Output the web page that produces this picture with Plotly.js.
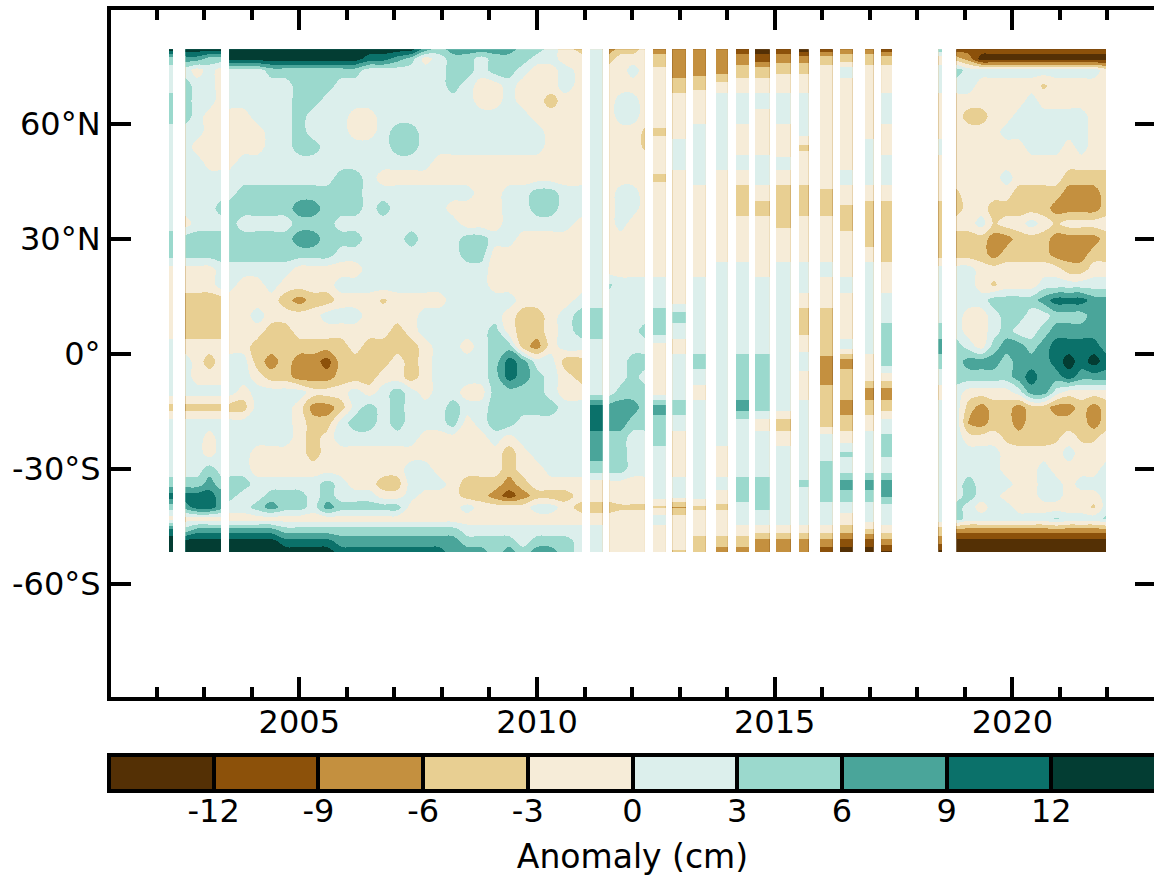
<!DOCTYPE html>
<html><head><meta charset="utf-8">
<script src="https://cdn.plot.ly/plotly-3.0.1.min.js"></script>
<style>html,body{margin:0;padding:0;background:#fff;overflow:hidden;width:1154px;height:879px}
.contourbg path,.contourfill path,.contourlevel path{shape-rendering:crispEdges}</style>
</head><body><div id="plot" style="width:1157px;height:879px"></div>
<script>
// Latitude of each row, north to south
const lats=[79.5,77,74,70,66,62,58,54,50,46,42,38,34,30,26,22,18,14,10,6,2,-2,-6,-10,-14,-18,-22,-26,-30,-34,-37,-40,-43,-46,-49,-51.7];
const levels=[-12,-9,-6,-3,0,3,6,9,12];
const bandColors=['#543005','#8c510a','#c4903f','#e8cf92','#f6ecd8','#dcefec','#9bd9cd','#4aa59a','#0b716a','#033d33'];

// Anomaly (cm) read by eye, rows north to south.
// Early block: 2002.3 | 2002.6-2003.35
const earlyAnomaly=[
[14,14,14,14,14],[5,8,8,5,5],[2,2,-2,2,-2],[2,5,2,2,-2],[5,5,2,2,-2],[5,5,2,-2,-2],
[2,2,2,-2,-2],[2,2,-2,-2,-2],[2,2,2,-2,-2],[2,2,2,2,2],[2,2,2,2,2],[2,2,2,2,5],
[2,-2,2,2,2],[5,5,5,5,5],[5,5,5,5,5],[-2,-2,-2,-2,2],[-2,-2,-2,-2,2],[-2,-5,-5,-5,-5],
[-2,-5,-5,-5,-5],[-2,-5,-5,-5,-5],[2,-2,-2,-2,-2],[2,2,-2,-5,-2],[2,2,-2,-2,-2],[2,2,2,2,2],
[-5,-5,-5,-5,-5],[2,2,2,2,2],[2,2,2,-2,2],[2,2,2,-2,2],[2,2,2,5,2],[5,5,5,8,5],
[11,11,11,11,8],[5,8,11,11,8],[-2,-2,-2,-2,-2],[11,5,8,8,8],[14,14,14,14,14],[14,14,14,14,14]];

// Continuous block: 2003.5-2011
const midAnomaly=[
[14,14,14,14,14,14,14,14,14,14,14,14,14,14,8,5,8,8,8,8,8,5,5,2,-2,-5],
[14,14,14,14,14,14,14,14,14,14,11,11,8,5,-2,2,5,5,2,5,5,5,2,2,-2,-2],
[2,2,2,5,5,5,5,5,5,5,2,2,2,2,2,2,5,5,2,5,5,2,-2,-2,2,-2],
[2,2,2,2,2,5,5,5,2,2,2,2,2,2,2,2,5,2,-2,-2,2,-2,-2,-2,2,-2],
[2,2,2,2,2,5,5,2,2,2,2,2,2,2,2,2,2,2,-2,-2,2,-2,-2,-5,-2,-2],
[-2,-2,2,2,2,5,2,2,2,-2,-2,2,2,2,2,2,2,2,2,2,2,2,-2,-2,-2,-2],
[-2,-2,-2,2,2,5,2,2,2,-2,-2,2,5,5,2,2,2,2,2,2,2,2,2,-2,-2,-2],
[-2,-2,-2,2,2,5,5,2,2,2,2,2,5,5,2,2,2,2,2,2,2,2,2,-2,-2,-2],
[-2,2,2,2,2,2,2,2,2,2,2,2,2,2,2,-2,-2,-2,-2,-2,-2,-2,-2,-2,-2,-2],
[2,2,2,2,2,2,2,2,5,5,2,-2,-2,-2,-2,-2,-2,-2,-2,-2,-2,-2,-2,-2,-2,-2],
[2,5,5,5,5,5,5,5,5,5,2,2,2,2,2,2,2,2,-2,-2,2,2,5,5,2,2],
[5,5,5,5,5,8,8,5,5,5,2,5,2,2,2,2,-2,-2,-2,-2,2,2,5,5,2,2],
[5,2,2,2,2,5,5,5,2,2,2,2,2,2,2,2,2,-2,-2,-2,2,2,2,2,2,-2],
[5,5,5,5,5,8,8,5,5,5,2,2,2,5,2,2,2,5,5,2,2,-2,-2,-2,-2,-2],
[5,5,5,5,5,5,5,5,2,2,2,2,2,2,2,2,2,5,5,-2,-2,-2,-2,-2,-2,-2],
[2,2,2,2,2,-2,-2,-2,-2,-2,2,2,2,2,2,2,2,2,2,-2,-2,-2,-2,-2,-2,-2],
[2,-2,-2,2,-2,-2,-2,-2,2,2,2,2,2,2,2,2,2,2,2,-2,-2,-2,-2,-2,-2,-2],
[-2,-2,-2,-2,-5,-8,-5,-5,-2,-2,-2,-4,-2,-2,-2,-2,2,2,2,2,2,-2,-2,-2,-2,2],
[-2,-2,2,-2,-2,-2,-2,2,2,2,-2,-2,-2,-2,2,2,2,2,2,2,-2,-5,-5,-2,2,5],
[-2,-2,-2,-5,-5,-2,-2,-2,-2,-2,-2,-2,-5,-2,2,2,2,2,2,5,-2,-5,-5,-2,2,5],
[-2,-2,-5,-5,-5,-5,-5,-5,-5,-2,-5,-5,-5,-5,-2,2,2,-2,2,5,5,-5,-8,-2,2,2],
[2,2,-5,-8,-5,-8,-8,-11,-5,-5,-5,-5,-2,-5,-2,2,2,2,2,5,11,8,2,2,-5,-5],
[2,2,-2,-5,-5,-8,-8,-8,-5,-5,-5,-2,-2,-5,-2,2,2,2,2,5,11,8,5,2,-2,-5],
[2,-2,2,2,2,2,-2,-2,-2,2,-2,2,5,2,-2,2,2,-2,-2,5,5,5,5,2,-2,-2],
[-5,-5,2,2,2,-2,-8,-8,-5,2,5,2,5,2,2,2,5,2,2,5,5,5,5,5,2,2],
[2,2,2,2,2,-2,-5,-5,2,5,5,2,5,2,2,2,5,-2,2,5,5,2,2,2,2,2],
[2,2,2,2,2,-2,-5,-2,2,2,2,2,2,2,-2,-2,-2,-2,-2,2,-2,2,2,2,2,2],
[2,2,-2,-2,-2,-2,-5,-2,-2,-2,-2,-2,-2,-2,-2,-2,-2,-2,-2,-2,-5,-2,2,2,2,2],
[2,2,-2,-2,-2,-2,-2,-2,-2,-2,-2,-2,-2,2,2,-2,-2,-2,-2,-2,-5,-2,-2,2,2,2],
[5,5,2,2,2,2,2,5,2,-2,-2,-5,-5,2,2,2,-2,-5,-5,-5,-8,-5,-2,-2,-2,-2],
[5,2,2,5,5,5,2,5,2,2,2,-2,-2,2,-2,-2,-2,-5,-5,-8,-11,-8,-5,-5,-5,-2],
[2,2,5,8,5,5,2,8,5,5,5,5,5,-2,-2,-2,-2,2,-2,-2,-2,-2,2,2,-2,-5],
[-2,-2,-2,-2,-2,-2,-2,-2,-2,-2,-2,-2,-2,-2,-2,-2,-2,-2,-2,-2,-2,-2,-2,-2,-2,-2],
[8,8,8,8,5,5,5,5,5,5,5,5,5,5,5,5,5,2,2,2,2,2,2,2,2,2],
[14,14,14,14,11,11,11,11,8,8,8,8,8,8,8,8,8,5,5,5,5,2,5,5,5,2],
[14,14,14,14,14,14,14,14,11,11,11,11,11,11,11,11,8,8,8,5,8,5,8,8,5,2]];

// Broken block 2011-2018.5: one list per column, each running north to south
const gappyColumns=[
[2,2,2,2,2,2,2,2,2,2, 2,2,2,2,2,2,2,2, 5,5,2,2,2,2, 11,11,8,8,5,-2, -2,-5,-2,2,2,2],
[-8,-5,-2,-2,-2,-2,-2,-2,-2,-2, -2,-2,-2,-2,-2,-2,4,2, 2,2,2,2,2,2, 8,8,5,5,5,-2, -2,-5,-2,-2,-2,-2],
[-5,-2,-2,-2,2,2,-2,-2,-2,-2, 2,2,2,-2,-2,-2,2,2, 2,2,2,2,2,5, 8,8,5,5,5,-2, -2,-4,-2,-2,-2,-2],
[-5,-2,2,-2,2,2,-2,-2,-2,-2, 2,2,-2,-2,-2,-2,2,2, 2,2,2,5,5,5, 8,5,2,2,2,-2, -2,-4,-2,-2,-2,-2],
[-2,-2,-2,-2,-2,-2,-4,-4,-2,-2, -2,-2,-2,-2,-2,-2,2,2, 2,5,2,5,2,5, 5,5,2,2,2,-2, -2,-4,-2,-2,-2,-2],
[-8,-5,-3,-2,-2,-2,-4,-2,-2,-4, -2,-2,-2,-2,-2,-2,2,2, 5,5,-2,-2,-2,-2, 8,5,5,2,2,2, 2,-4,2,-2,-2,-2],
[-8,-8,-8,-5,-2,-2,-2,2,2,-2, -2,-2,-2,-2,-2,-2,-2,-2, 5,2,-2,2,2,2, 5,2,-2,-2,-2,2, 2,-7,-2,-2,-2,-4],
[-8,-8,-8,-4,-2,-2,2,2,2,2, -2,-2,-2,-2,-2,-2,2,2, 2,2,2,5,2,-2, 2,2,2,2,2,2, 2,-4,-2,-2,-5,-5],
[-8,-8,-8,-2,2,2,2,2,2,-2, -2,-2,-2,-2,-2,2,2,2, 2,2,2,2,2,2, 2,2,2,-2,-2,2, -2,-4,-2,-2,-5,-8],
[-11,-8,-5,-2,2,2,-2,-2,2,-2, -5,-5,-2,-2,-2,2,2,2, 2,2,2,5,5,5, 8,2,2,2,2,5, 5,2,2,-2,-5,-8],
[-14,-11,-5,-2,2,-2,-2,-2,2,2, -2,-5,-2,-2,-2,-2,2,2, 2,2,2,5,5,5, 5,-2,2,2,2,5, 5,4,2,-2,-8,-8],
[-11,-8,-4,-2,2,2,-2,-3,2,-2, -5,-5,-4,-2,-2,2,2,2, 2,2,2,2,2,2, 2,-5,-2,2,2,2, 2,2,2,-2,-8,-8],
[-14,-8,-4,-2,2,2,2,-4,-2,-2, -5,-5,-2,-2,-2,2,2,-2, -5,-4,-2,3,-2,-2, 2,2,2,2,2,4, 2,2,2,-2,-8,-8],
[-11,-5,-2,-2,-2,-2,-2,-2,-2,-2, -4,-5,-2,-2,-2,2,-2,-2, -5,-4,-4,-8,-8,-5, -5,-5,2,2,5,5, 5,2,2,-2,-8,-11],
[-8,-5,2,-2,-2,-2,-2,-2,-2,2, -2,-4,-5,-2,-2,-2,2,-2, -2,-2,2,-8,-5,-5, -8,-5,-2,4,2,8, 5,2,-2,-5,-11,-14],
[-8,-5,-2,-2,-2,-2,-2,2,2,2, -2,-5,-5,-5,-2,2,2,2, 2,2,2,-2,-2,-8, -5,-2,2,2,2,8, 5,2,2,-4,-11,-14],
[-11,-5,-2,-2,2,2,-2,-2,2,2, -2,-5,-5,-5,-5,-2,-2,2, 2,5,5,5,-2,-8, -5,2,4,4,2,8, 7,2,2,-2,-8,-13],
[5,-2,2,2,-2,-2,-2,2,-2,-2, -2,-5,-5,-5,-5,2,2,2, 2,5,8,5,2,-2, 2,2,2,2,2,2, 2,2,2,-5,-8,-14]];

// Late block: 2018.8-2022
const lateAnomaly=[
[-11,-11,-11,-11,-11,-11,-11,-11,-11,-11,-11,-11,-11],
[-5,-8,-14,-14,-14,-14,-14,-14,-14,-14,-14,-14,-14],
[5,2,2,2,2,2,2,2,2,2,2,2,-2],
[2,2,-2,-2,-2,-2,-2,-4,-2,-2,-2,-2,-2],
[-2,-2,-2,-2,-2,-2,2,-2,-2,-2,-2,-2,-2],
[-2,-5,-5,-2,-2,2,2,2,2,2,2,-2,-2],
[-2,-2,-2,-2,2,2,2,2,2,2,2,-2,-2],
[-2,-2,-2,-2,-2,-2,2,2,2,-2,2,-2,-2],
[-2,-2,-2,-2,-2,-2,-2,-2,-2,-2,-2,-2,-2],
[-2,-2,-2,-2,2,-2,-2,-2,-2,-5,-5,-5,-5],
[-4,-2,-2,-2,-2,-5,-5,-5,-5,-8,-8,-8,-5],
[-5,-2,-2,-5,-5,-5,-5,-5,-8,-8,-8,-8,-5],
[-2,-2,2,-4,-2,-2,2,-2,-4,-2,-2,-2,-2],
[-5,-5,-5,-8,-8,-5,-5,-5,-8,-8,-8,-8,-5],
[-5,-5,-5,-8,-5,-5,-5,-5,-8,-8,-8,-5,-5],
[2,2,-2,-2,-2,-2,-2,-2,-2,-5,-5,-2,-2],
[2,2,-2,-4,-2,-2,-2,2,2,2,2,2,2],
[2,2,2,5,5,5,5,8,11,11,11,8,8],
[2,-2,-2,2,5,5,2,2,5,5,5,8,8],
[2,-2,-2,2,5,2,2,5,8,8,8,8,8],
[5,2,-2,5,8,8,5,8,11,11,11,11,8],
[5,8,8,8,5,8,8,8,11,14,11,14,11],
[5,5,5,5,5,8,11,8,8,11,8,8,8],
[2,-2,-2,-2,-2,2,8,8,2,-2,-2,-2,-2],
[2,-5,-8,-5,-5,-8,-5,-5,-8,-8,-5,-8,-5],
[2,-7,-8,-5,-5,-8,-5,-5,-5,-5,-5,-8,-5],
[2,-2,-2,-2,-4,-5,-5,-5,-4,-2,-4,-4,-2],
[2,2,2,2,-2,-2,-2,-2,-2,2,-2,-2,-2],
[2,2,2,2,-2,-2,-2,2,-2,-2,-2,-2,2],
[2,5,2,2,2,-2,-2,2,2,-2,2,2,2],
[2,5,2,2,-2,-2,-2,2,2,-2,-2,-2,2],
[5,2,-2,2,2,-2,-2,-2,-2,-2,-2,-4,2],
[5,2,2,2,2,2,2,2,4,2,2,2,4],
[-8,-8,-8,-8,-8,-8,-8,-8,-8,-8,-8,-8,-8],
[-14,-14,-14,-14,-14,-14,-14,-14,-14,-14,-14,-14,-14],
[-14,-14,-14,-14,-14,-14,-14,-14,-14,-14,-14,-14,-14]];

// Observation campaigns: the years of each stretch of data and its source columns
const earlyStrips=[
 {years:[2002.254,2002.347],cols:[0]},
 {years:[2002.605,2002.857,2003.109,2003.355],cols:[1,2,3,4]}];
const midStrips=[
 {years:[2003.523,2003.824,2004.118,2004.412,2004.706,2005,2005.294,2005.588,2005.882,2006.176,2006.471,2006.765,2007.059,2007.353,2007.647,2007.941,2008.235,2008.529,2008.824,2009.118,2009.412,2009.706,2010,2010.294,2010.588,2010.952],
  cols:[0,1,2,3,4,5,6,7,8,9,10,11,12,13,14,15,16,17,18,19,20,21,22,23,24,25]}];
const gappyStrips=[
 {years:[2011.113,2011.38],cols:[0]},
 {years:[2011.519,2011.765,2012.017,2012.269],cols:[1,2,3,4]},
 {years:[2012.437,2012.71],cols:[5]},
 {years:[2012.847,2013.13],cols:[6]},
 {years:[2013.277,2013.55],cols:[7]},
 {years:[2013.76,2014.013],cols:[8]},
 {years:[2014.181,2014.462],cols:[9]},
 {years:[2014.58,2014.895],cols:[10]},
 {years:[2015.021,2015.336],cols:[11]},
 {years:[2015.504,2015.714],cols:[12]},
 {years:[2015.945,2016.218],cols:[13]},
 {years:[2016.366,2016.639],cols:[14]},
 {years:[2016.891,2017.08],cols:[15]},
 {years:[2017.239,2017.468],cols:[16]},
 {years:[2018.445,2018.529],cols:[17]}];
const lateStrips=[
 {years:[2018.824,2019.086,2019.349,2019.611,2019.874,2020.137,2020.399,2020.662,2020.924,2021.187,2021.45,2021.712,2021.975],
  cols:[0,1,2,3,4,5,6,7,8,9,10,11,12]}];

const yTickVals=[-60,-30,0,30,60];
const yTickText=['-60°S','-30°S','0°','30°N','60°N'];
const cbarTicks=levels;

const zMin=-15,zMax=15,n=bandColors.length;
const colorscale=[];
bandColors.forEach((c,i)=>{colorscale.push([i/n,c]);colorscale.push([(i+1)/n,c]);});

gappyColumns.forEach((c,i)=>{if(c.length!==lats.length) throw new Error('gappy col '+i+' has '+c.length);});
const gappyAnomaly=lats.map((_,r)=>gappyColumns.map(c=>c[r]));
const blocks=[[earlyAnomaly,earlyStrips,5],[midAnomaly,midStrips,26],[gappyAnomaly,gappyStrips,18],[lateAnomaly,lateStrips,13]];
const ascLats=lats.slice().reverse();
// the readings name a colour band; place them at the middle of that band
const bandMiddle=v=>Math.sign(v)*(Math.abs(v)-0.5);
const data=[];
blocks.forEach(([grid,strips,w],bi)=>{
  if(grid.length!==lats.length) throw new Error('block '+bi+' has '+grid.length+' rows');
  grid.forEach((r,i)=>{if(r.length!==w) throw new Error('block '+bi+' row '+i+' has '+r.length);});
  strips.forEach(s=>{
    const cols=s.cols.length===1?[s.cols[0],s.cols[0]]:s.cols;
    const z=grid.map(r=>cols.map(c=>bandMiddle(r[c]))).reverse();
    data.push({type:'contour',x:s.years,y:ascLats,z:z,zauto:false,zmin:zMin,zmax:zMax,autocontour:false,
      contours:{start:zMin,end:zMax,size:3,coloring:'fill',showlines:false},
      line:{width:0,smoothing:1},colorscale:colorscale,showscale:false,hoverinfo:'skip'});
  });
});
data[0].showscale=true;
const W=1157,H=879,L=111,R=2,T=10,B=182;
const pw=W-L-R,ph=H-T-B;
data[0].colorbar={orientation:'h',lenmode:'pixels',len:1047,thicknessmode:'pixels',thickness:36,
  x:(109-L)/pw,xanchor:'left',xpad:0,y:(H-B-755)/ph,yanchor:'top',ypad:0,
  outlinewidth:4,outlinecolor:'#000',borderwidth:0,
  tickmode:'array',tickvals:cbarTicks,ticktext:cbarTicks.map(String),ticks:'inside',ticklen:36,tickwidth:4,tickcolor:'#000',
  tickfont:{family:'DejaVu Sans',size:32,color:'#000'},
  title:{text:'Anomaly (cm)',side:'bottom',font:{family:'DejaVu Sans',size:33,color:'#000'}}};
const axis={showgrid:false,zeroline:false,showline:true,linecolor:'#000',linewidth:4,mirror:'allticks',ticks:'inside',ticklen:20,tickwidth:4,tickcolor:'#000',tickfont:{family:'DejaVu Sans',size:32,color:'#000'}};
const layout={width:W,height:H,margin:{l:L,r:R,t:T,b:B,pad:0,autoexpand:false},paper_bgcolor:'#fff',plot_bgcolor:'#fff',showlegend:false,
  xaxis:Object.assign({},axis,{range:[2001.038,2023],tick0:2005,dtick:5,tickformat:'d',ticklabelstandoff:-6,minor:{dtick:1,tick0:2005,ticks:'inside',ticklen:10,tickwidth:4,tickcolor:'#000',showgrid:false}}),
  yaxis:Object.assign({},axis,{range:[-89.49,89.75],tickmode:'array',tickvals:yTickVals,ticktext:yTickText})};
Plotly.newPlot('plot',data,layout,{staticPlot:true,displayModeBar:false}).then(()=>{
  document.querySelectorAll('.colorbar .cbaxis text').forEach(t=>{t.setAttribute('y',(+t.getAttribute('y')||0)-10);});
  document.querySelectorAll('.colorbar .cbtitle text').forEach(t=>{t.setAttribute('y',(+t.getAttribute('y')||0)-5);});
});
</script></body></html>
